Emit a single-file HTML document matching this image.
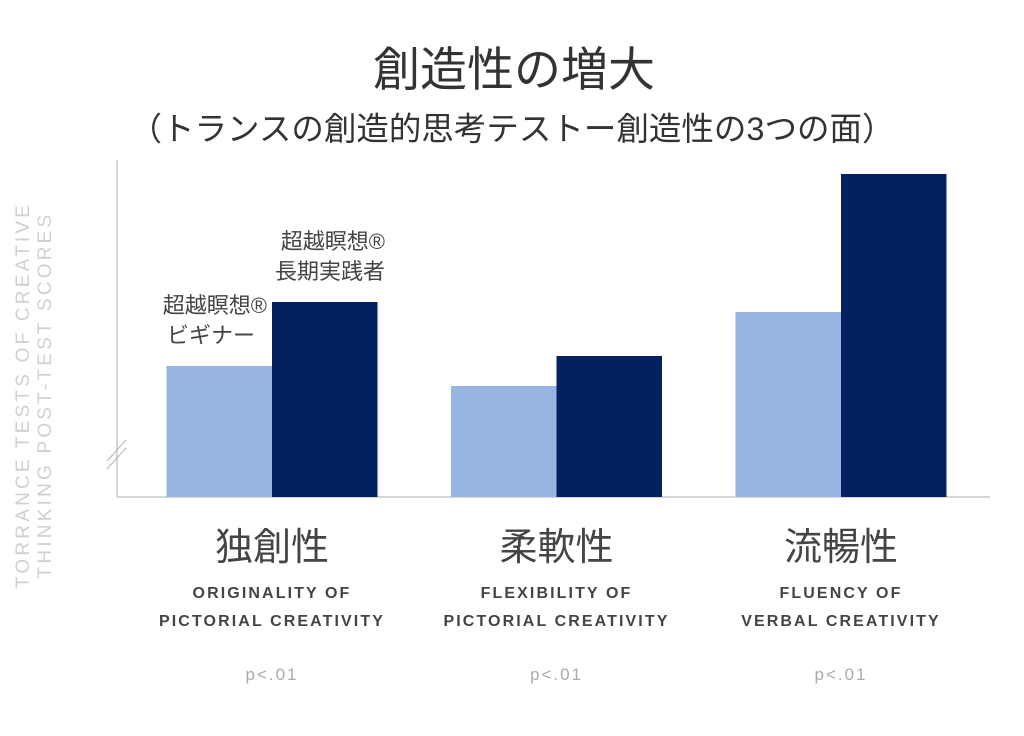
<!DOCTYPE html>
<html><head><meta charset="utf-8">
<style>
body{margin:0;background:#fff;width:1024px;height:731px;overflow:hidden;font-family:"Liberation Sans","Noto Sans CJK JP",sans-serif;}
svg text{font-family:"Liberation Sans","Noto Sans CJK JP",sans-serif;}
</style></head>
<body>
<svg id="chart" width="1024" height="731">
<text x="514" y="86" text-anchor="middle" font-size="47" fill="#333">創造性の増大</text>
<text x="512" y="140" text-anchor="middle" font-size="32.5" fill="#333">（トランスの創造的思考テストー創造性の3つの面）</text>
<g transform="translate(31,395) rotate(-90)">
<text x="0" y="-2" text-anchor="middle" font-size="19" letter-spacing="3.2" fill="#d0d0d0">TORRANCE TESTS OF CREATIVE</text>
<text x="0" y="20" text-anchor="middle" font-size="19" letter-spacing="3.2" fill="#d0d0d0">THINKING POST-TEST SCORES</text>
</g>
<line x1="117" y1="160" x2="117" y2="497" stroke="#c8c8c8" stroke-width="1.5"/>
<line x1="117" y1="497" x2="990" y2="497" stroke="#c8c8c8" stroke-width="1.5"/>
<g stroke="#bbb" stroke-width="1.2">
<line x1="107" y1="461" x2="126" y2="440"/><line x1="107" y1="469" x2="126" y2="448"/>
</g>
<g id="bars"></g>
<g id="labels"></g>
<g font-size="22" fill="#444">
<text x="385" y="249" text-anchor="end">超越瞑想®</text>
<text x="385" y="279" text-anchor="end">長期実践者</text>
<text x="267" y="313" text-anchor="end">超越瞑想®</text>
<text x="255" y="343" text-anchor="end">ビギナー</text>
</g>
</svg>
<script>
const categoriesJa = ["独創性","柔軟性","流暢性"];
const categoriesEn1 = ["ORIGINALITY OF","FLEXIBILITY OF","FLUENCY OF"];
const categoriesEn2 = ["PICTORIAL CREATIVITY","PICTORIAL CREATIVITY","VERBAL CREATIVITY"];
const pValues = ["p<.01","p<.01","p<.01"];
const beginnerValues = [131,111,185];
const longTermValues = [195,141,323];
const ns="http://www.w3.org/2000/svg";
const yBase=497, yTopPx=157, yMax=340;
function yScale(v){return yBase-(v/yMax)*(yBase-yTopPx);}
function xCenter(i){return 272+i*284.5;}
const barW=105.5;
const bars=document.getElementById('bars');
const labels=document.getElementById('labels');
function mk(tag,attrs,parent){const e=document.createElementNS(ns,tag);for(const k in attrs)e.setAttribute(k,attrs[k]);parent.appendChild(e);return e;}
categoriesJa.forEach((c,i)=>{
  const cx=xCenter(i);
  const b1=mk('rect',{x:cx-barW,y:yScale(beginnerValues[i]),width:barW,height:yBase-yScale(beginnerValues[i]),fill:'#98b4e0'},bars);
  
  
  const b2=mk('rect',{x:cx,y:yScale(longTermValues[i]),width:barW,height:yBase-yScale(longTermValues[i]),fill:'#03215f'},bars);
  
  
  const t=mk('text',{x:cx,y:560,'text-anchor':'middle','font-size':'38',fill:'#444'},labels);t.textContent=c;
  
  
  const e1=mk('text',{x:cx,y:598,'text-anchor':'middle','font-size':'16','font-weight':'bold','letter-spacing':'2.1',fill:'#444'},labels);e1.textContent=categoriesEn1[i];
  
  
  const e2=mk('text',{x:cx,y:626,'text-anchor':'middle','font-size':'16','font-weight':'bold','letter-spacing':'2.1',fill:'#444'},labels);e2.textContent=categoriesEn2[i];
  
  
  const p=mk('text',{x:cx,y:680,'text-anchor':'middle','font-size':'17','letter-spacing':'2',fill:'#aaa'},labels);p.textContent=pValues[i];
  
  
});
</script>
</body></html>
